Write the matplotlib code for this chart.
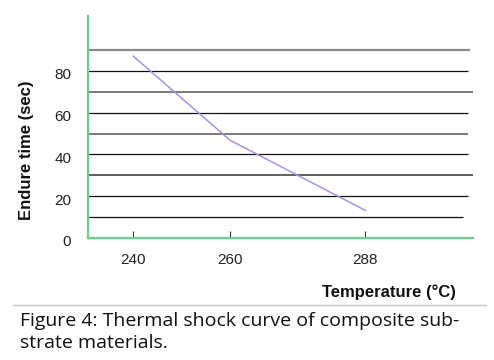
import matplotlib
matplotlib.use("Agg")
import matplotlib.pyplot as plt
import matplotlib.transforms as mtransforms
from matplotlib.lines import Line2D

# values
temperatures = [240, 260, 288]
endure_time = [87, 46.8, 13.2]
y_ticks = [0, 20, 40, 60, 80]
rule_values = [90, 80, 70, 60, 50, 40, 30, 20, 10]

# how each horizontal rule is drawn (colour, width, right end in axes fraction)
rule_colors = ["#8a8a8a", "#111111", "#7a7a7a", "#111111", "#7a7a7a",
               "#111111", "#444444", "#111111", "#111111"]
rule_widths = [1.6, 0.9, 1.4, 0.9, 1.4, 0.9, 1.2, 0.9, 0.9]
rule_ends = [0.992, 0.987, 1.0, 0.987, 0.987, 0.987, 1.0, 0.987, 0.974]

caption = "Figure 4: Thermal shock curve of composite sub-\nstrate materials."

W, H = 494, 360
fig = plt.figure(figsize=(W / 100, H / 100), dpi=100)
ax = fig.add_axes([88 / W, 1 - 238 / H, (473 - 88) / W, (238 - 16) / H])

ax.set_xlim(230.6, 310.25)
ax.set_ylim(0, 106.3)

for val, col, lw, end in zip(rule_values, rule_colors, rule_widths, rule_ends):
    ax.plot([0, end], [val, val], color=col, lw=lw,
            transform=ax.get_yaxis_transform(), solid_capstyle="butt", zorder=1)

ax.plot(temperatures, endure_time, color="#ad8fdc", lw=1.1, zorder=3)

for side in ["top", "right"]:
    ax.spines[side].set_visible(False)
for side in ["left", "bottom"]:
    ax.spines[side].set_color("#68cf8f")
    ax.spines[side].set_linewidth(1.6)
    ax.spines[side].set_zorder(4)

ax.set_xticks(temperatures)
ax.set_xticklabels([str(t) for t in temperatures])
ax.set_yticks(y_ticks)
ax.set_yticklabels([str(v) for v in y_ticks])
ax.tick_params(axis="x", direction="in", length=5, width=0.8, color="#333333",
               pad=11, labelsize=11, labelcolor="#222222")
ax.tick_params(axis="y", length=0, pad=12, labelsize=11, labelcolor="#222222")
for lab in ax.get_xticklabels() + ax.get_yticklabels():
    lab.set_fontfamily("Liberation Sans")
shift = mtransforms.ScaledTranslation(0, -3 / 100, fig.dpi_scale_trans)
for lab in ax.get_yticklabels():
    lab.set_transform(lab.get_transform() + shift)

fig.text(26 / W, 1 - 150 / H, "Endure time (sec)", rotation=90, ha="center",
         va="center", fontsize=12, fontweight="bold", family="Liberation Sans",
         color="#111111")
fig.text(456 / W, 1 - 292 / H, "Temperature (°C)", ha="right", va="center",
         fontsize=12, fontweight="bold", family="Liberation Sans", color="#111111")

fig.add_artist(Line2D([13 / W, 486 / W], [1 - 305 / H, 1 - 305 / H],
                      color="#c8c8c8", lw=1, transform=fig.transFigure))
fig.text(20 / W, 1 - 312 / H, caption, ha="left", va="top", fontsize=14,
         family="Open Sans", color="#111111", linespacing=1.25)

fig.savefig("out.png", dpi=100)
